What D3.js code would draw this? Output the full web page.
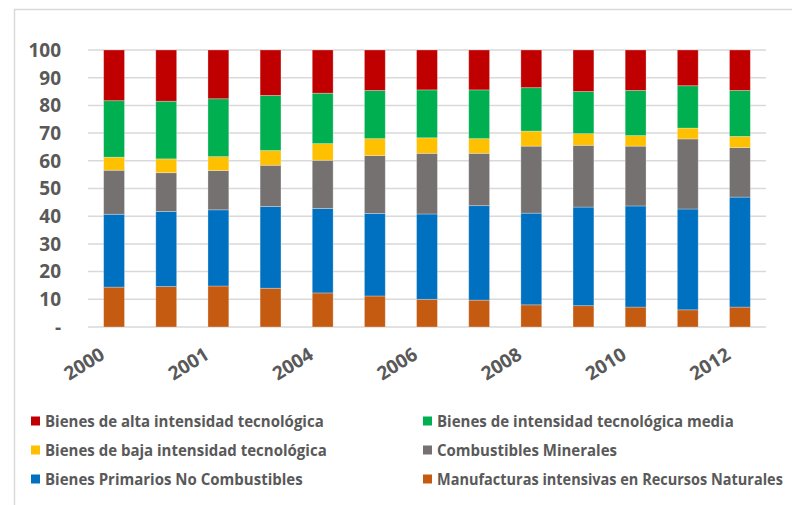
<!DOCTYPE html>
<html>
<head>
<meta charset="utf-8">
<script src="https://cdn.jsdelivr.net/npm/d3@7"></script>
<style>
  body { margin: 0; background: #fff; }
  svg { display: block; font-family: "Open Sans", "DejaVu Sans", sans-serif; }
</style>
</head>
<body>
<div id="chart"></div>
<script>
// tick labels under the bars (Excel shows every other one)
const tickLabels = ["2000", "", "2001", "", "2004", "", "2006", "", "2008", "", "2010", "", "2012"];

// shares in % (bottom to top)
const manufacturas = [14.4, 14.6, 14.8, 14.0, 12.3, 11.2, 10.0, 9.7, 8.0, 7.7, 7.2, 6.2, 7.2];
const primarios    = [26.3, 27.1, 27.5, 29.5, 30.5, 29.8, 30.8, 34.1, 33.1, 35.6, 36.5, 36.4, 39.7];
const combustibles = [15.9, 14.0, 14.2, 14.9, 17.4, 20.9, 21.9, 18.9, 24.2, 22.3, 21.6, 25.3, 17.9];
const bajaTec      = [4.7, 5.0, 5.0, 5.3, 6.0, 6.1, 5.6, 5.3, 5.4, 4.2, 3.8, 3.9, 4.0];
const mediaTec     = [20.4, 20.8, 20.9, 19.9, 18.2, 17.4, 17.3, 17.6, 15.7, 15.2, 16.3, 15.3, 16.6];
const altaTec      = [18.3, 18.5, 17.6, 16.4, 15.6, 14.6, 14.4, 14.4, 13.6, 15.0, 14.6, 12.9, 14.6];

const yTicks = [0, 10, 20, 30, 40, 50, 60, 70, 80, 90, 100];

const seriesDefs = [
  { key: "man", name: "Manufacturas intensivas en Recursos Naturales", values: manufacturas, color: "#C55A11" },
  { key: "prim", name: "Bienes Primarios No Combustibles", values: primarios, color: "#0070C0" },
  { key: "comb", name: "Combustibles Minerales", values: combustibles, color: "#767171" },
  { key: "baja", name: "Bienes de baja intensidad tecnológica", values: bajaTec, color: "#FFC000" },
  { key: "media", name: "Bienes de intensidad tecnológica media", values: mediaTec, color: "#00B050" },
  { key: "alta", name: "Bienes de alta intensidad tecnológica", values: altaTec, color: "#C00000" },
];

// legend order as in the picture (two columns)
const legendOrder = ["alta", "media", "baja", "comb", "prim", "man"];
const legendWidths = { alta: 279, media: 297, baja: 282, comb: 180, prim: 258, man: 346 };

const width = 792, height = 505;
const margin = { left: 88, right: 26, top: 50, bottom: 178 };
const plotW = width - margin.left - margin.right;
const plotH = height - margin.top - margin.bottom;

const table = tickLabels.map((_, i) => {
  const row = { idx: i };
  seriesDefs.forEach(s => { row[s.key] = s.values[i]; });
  return row;
});

const svg = d3.select("#chart").append("svg")
  .attr("width", width)
  .attr("height", height);

// outer chart border (right and bottom edges fall outside the picture)
svg.append("path")
  .attr("d", `M14.5,${height}V9.5H${width}`)
  .attr("fill", "none")
  .attr("stroke", "#d9d9d9")
  .attr("stroke-width", 1.5);

const g = svg.append("g").attr("transform", `translate(${margin.left},${margin.top})`);

const x = d3.scaleBand()
  .domain(d3.range(tickLabels.length))
  .range([0, plotW])
  .paddingInner(0.6)
  .paddingOuter(0.3);

const y = d3.scaleLinear().domain([0, 100]).range([plotH, 0]);

// gridlines
g.append("g")
  .selectAll("line")
  .data(yTicks)
  .join("line")
  .attr("x1", 0).attr("x2", plotW)
  .attr("y1", d => y(d)).attr("y2", d => y(d))
  .attr("stroke", "#d9d9d9")
  .attr("stroke-width", 1.5);

// y labels
g.append("g")
  .selectAll("text")
  .data(yTicks)
  .join("text")
  .attr("x", -27)
  .attr("y", d => y(d))
  .attr("dy", "0.36em")
  .attr("text-anchor", "end")
  .attr("fill", "#595959")
  .style("font-size", "19px")
  .style("font-weight", 700)
  .text(d => d === 0 ? "-" : d);

const stack = d3.stack().keys(seriesDefs.map(s => s.key));
const series = stack(table);
const colorOf = Object.fromEntries(seriesDefs.map(s => [s.key, s.color]));

g.append("g")
  .selectAll("g")
  .data(series)
  .join("g")
  .attr("fill", d => colorOf[d.key])
  .selectAll("rect")
  .data(d => d)
  .join("rect")
  .attr("x", d => x(d.data.idx))
  .attr("width", x.bandwidth())
  .attr("y", d => y(d[1]))
  .attr("height", d => y(d[0]) - y(d[1]))
  .attr("stroke", "#ffffff")
  .attr("stroke-opacity", 0.35)
  .attr("stroke-width", 0.8);

// x labels, rotated
g.append("g")
  .selectAll("text")
  .data(tickLabels.map((t, i) => ({ t, i })).filter(d => d.t))
  .join("text")
  .attr("transform", d => `translate(${x(d.i) + x.bandwidth() / 2 - 8},${plotH + 31}) rotate(-32)`)
  .attr("text-anchor", "end")
  .attr("fill", "#595959")
  .style("font-size", "19px")
  .style("font-weight", 700)
  .text(d => d.t);

// legend
const legend = svg.append("g").attr("class", "legend");
const legendItems = legend.selectAll("g")
  .data(legendOrder.map(k => seriesDefs.find(s => s.key === k)))
  .join("g")
  .attr("transform", (d, i) => {
    const col = i % 2;
    const row = Math.floor(i / 2);
    return `translate(${col === 0 ? 31 : 423},${421 + row * 29})`;
  });

legendItems.append("rect")
  .attr("x", 0).attr("y", -4.5)
  .attr("width", 9).attr("height", 9)
  .attr("fill", d => d.color);

// the legend font is condensed: squeeze each label to its measured width
legendItems.append("text")
  .attr("y", 0)
  .attr("dy", "0.36em")
  .attr("fill", "#595959")
  .style("font-size", "15.5px")
  .style("font-weight", 700)
  .text(d => d.name)
  .each(function (d) {
    const w = this.getComputedTextLength();
    const sx = legendWidths[d.key] / w;
    d3.select(this).attr("transform", `translate(14,0) scale(${sx},1)`);
  });
</script>
</body>
</html>
